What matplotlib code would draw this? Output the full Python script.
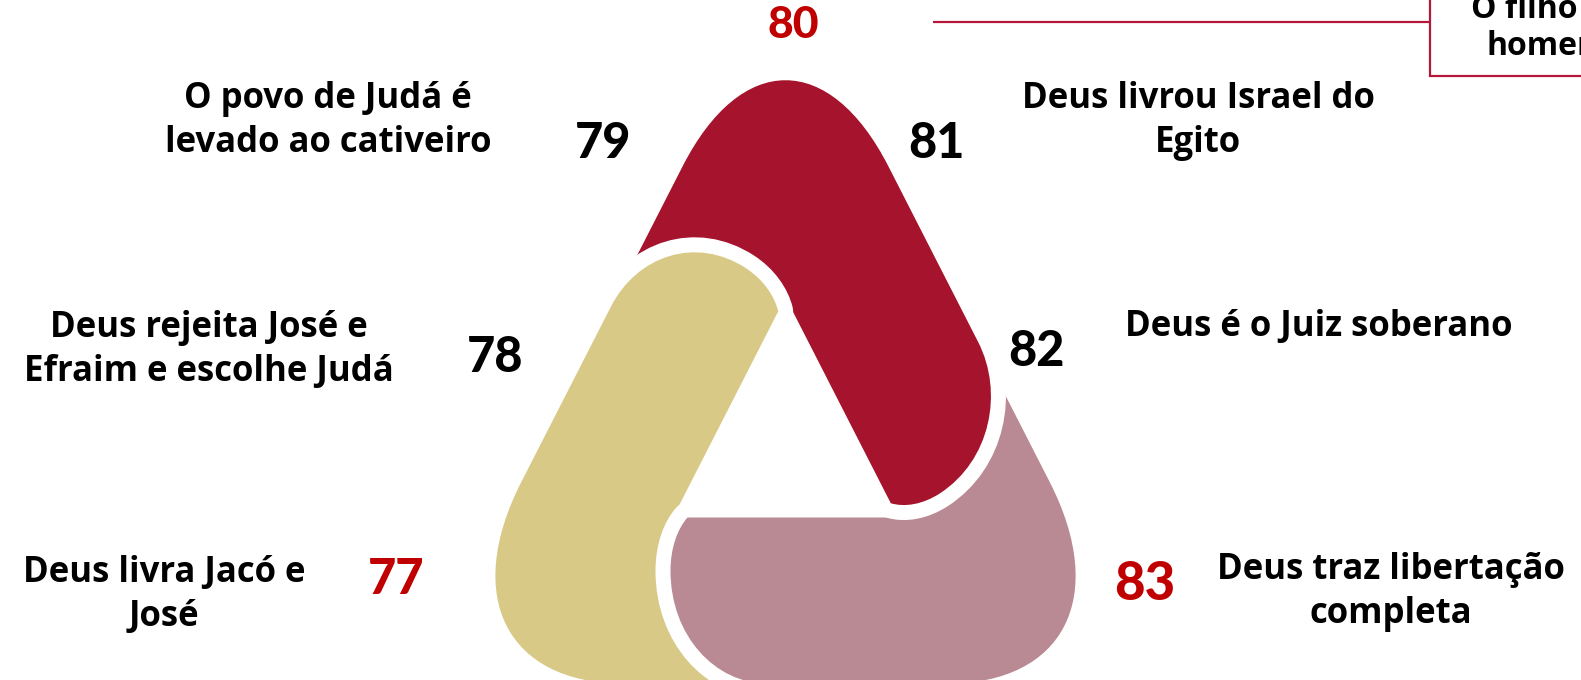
import matplotlib
matplotlib.use("Agg")
import matplotlib.pyplot as plt
import numpy as np
from matplotlib.path import Path
from matplotlib.patches import PathPatch, Rectangle
from matplotlib.transforms import Affine2D

# ---------------- data ----------------
chapters = ["77", "78", "79", "80", "81", "82", "83"]
chapter_colors = ["#C00000", "#000000", "#000000", "#C00000", "#000000", "#000000", "#C00000"]
chapter_xy = [(396, 580), (495, 357), (603, 144), (793, 25), (936, 143), (1036, 352), (1145, 585)]
chapter_size = [35, 35, 35, 32, 35, 35, 38]

labels = [
    "Deus livra Jacó e\nJosé",
    "Deus rejeita José e\nEfraim e escolhe Judá",
    "O povo de Judá é\nlevado ao cativeiro",
    "Deus livrou Israel do\nEgito",
    "Deus é o Juiz soberano",
    "Deus traz libertação\ncompleta",
]
label_xy = [(164, 595), (209, 350), (328, 121), (1198, 121), (1319, 327), (1391, 592)]

box_text = "O filho do\nhomem"

band_names = ["pink", "red", "gold"]
band_colors = {"pink": "#B98A93", "red": "#A6132D", "gold": "#D9C987"}
band_angles = {"pink": 0, "red": 120, "gold": -120}

# ---------------- figure ----------------
W, H, DPI = 1581, 680, 100
fig = plt.figure(figsize=(W / DPI, H / DPI), dpi=DPI)
ax = fig.add_axes([0, 0, 1, 1])
ax.set_xlim(0, W)
ax.set_ylim(H, 0)
ax.axis("off")

# ---------------- band geometry (one band, rotated 3x) ----------------
r_in, R = 65.0, 212.0
s3 = np.sqrt(3)
t = np.array([-0.5, s3 / 2])
n = np.array([s3 / 2, 0.5])


def band_path(s_cut=30.0, k=0.57, d=205.8):
    inner_vertex = np.array([r_in * s3, -r_in])
    cut_in = r_in * n + s_cut * t
    cut_out = R * n + s_cut * t
    V = np.array([R * s3, -R])
    T1 = V + d * t
    T2 = V + d * np.array([-1.0, 0.0])
    P1 = T1 + k * (V - T1)
    P2 = T2 + k * (V - T2)
    verts = [(-98, -r_in), tuple(inner_vertex), tuple(cut_in), tuple(cut_out), tuple(T1),
             tuple(P1), tuple(P2), tuple(T2),
             (-18, -R),
             (-70, -R), (-115, -170), (-115, -112),
             (-115, -92), (-108, -75), (-98, -r_in),
             (-98, -r_in)]
    codes = [Path.MOVETO, Path.LINETO, Path.LINETO, Path.LINETO, Path.LINETO,
             Path.CURVE4, Path.CURVE4, Path.CURVE4,
             Path.LINETO,
             Path.CURVE4, Path.CURVE4, Path.CURVE4,
             Path.CURVE4, Path.CURVE4, Path.CURVE4,
             Path.CLOSEPOLY]
    return Path(verts, codes)


BP = band_path()
YS = 1.13
CX, CY = 785.5, 517.5 - YS * r_in
GAP = 15  # px white gap


def tr(name):
    return Affine2D().rotate_deg(band_angles[name]).scale(1, -YS).translate(CX, CY) + ax.transData


def draw(name, halo=False, clip=None, z=1):
    arts = []
    if halo:
        h = PathPatch(BP, fc="white", ec="white", lw=2 * GAP * 72 / DPI,
                      joinstyle="round", transform=tr(name), zorder=z)
        ax.add_patch(h)
        arts.append(h)
    p = PathPatch(BP, fc=band_colors[name], ec="none", lw=0, transform=tr(name), zorder=z)
    ax.add_patch(p)
    arts.append(p)
    if clip is not None:
        for a in arts:
            a.set_clip_path(clip)


draw("pink", z=1)
draw("red", halo=True, z=2)
draw("gold", halo=True, z=3)
clip_rect = Rectangle((0, 470), 860, H - 470, transform=ax.transData)
draw("pink", halo=True, clip=clip_rect, z=4)

# ---------------- texts ----------------
for s, c, (x, y), fs in zip(chapters, chapter_colors, chapter_xy, chapter_size):
    ax.text(x, y, s, color=c, fontsize=fs, fontweight="black", family="Lato",
            ha="center", va="center", zorder=10)

for s, (x, y) in zip(labels, label_xy):
    ax.text(x, y, s, color="black", fontsize=25, fontweight="bold", family="Open Sans",
            ha="center", va="center", multialignment="center", linespacing=1.33, zorder=10)

# top-right callout box
line_color = "#B5173A"
ax.plot([933, 1430], [22, 22], color=line_color, lw=1.6, solid_capstyle="butt", zorder=5)
ax.add_patch(Rectangle((1430, -30), 300, 106, fc="white", ec=line_color, lw=1.6, zorder=5))
ax.text(1548, 28, box_text, color="black", fontsize=23, fontweight="bold", family="Open Sans",
        ha="center", va="center", multialignment="center", linespacing=1.15, zorder=6)

fig.savefig("out.png", dpi=DPI, facecolor="white")
